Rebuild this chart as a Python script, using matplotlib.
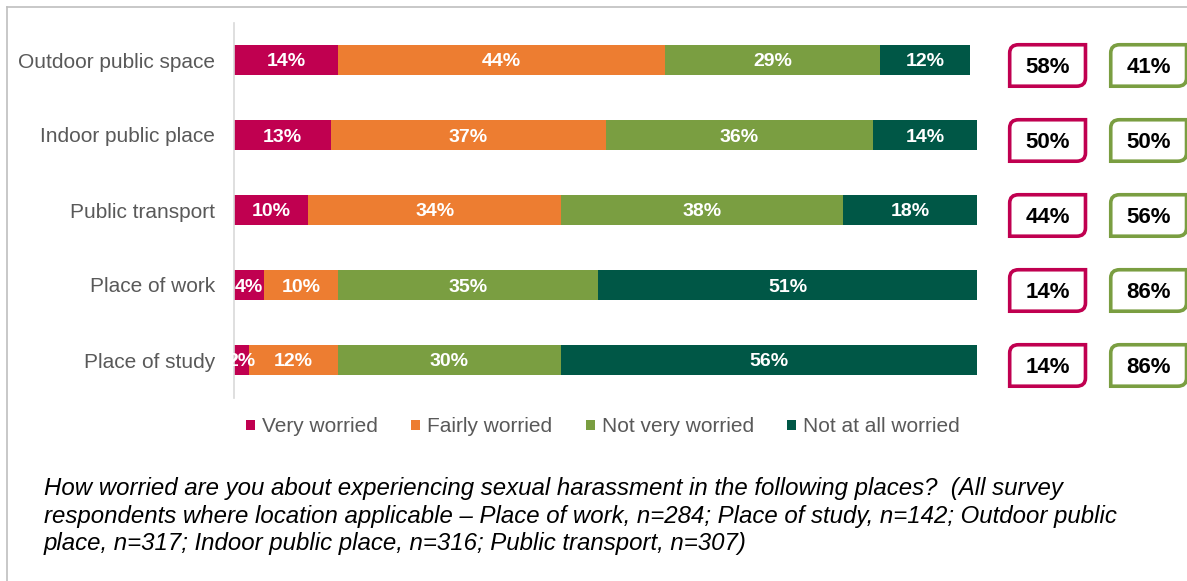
import numpy as np
import matplotlib.pyplot as plt
from matplotlib.patches import Patch, PathPatch
from matplotlib.path import Path
from matplotlib.lines import Line2D

plt.rcParams['font.family'] = ['Liberation Sans', 'DejaVu Sans']

places = ['Outdoor public space', 'Indoor public place', 'Public transport',
          'Place of work', 'Place of study']
series = ['Very worried', 'Fairly worried', 'Not very worried', 'Not at all worried']
very_worried = [14, 13, 10, 4, 2]
fairly_worried = [44, 37, 34, 10, 12]
not_very_worried = [29, 36, 38, 35, 30]
not_at_all_worried = [12, 14, 18, 51, 56]
colours = ['#C00050', '#ED7D31', '#7A9E41', '#005746']

footnote = ('How worried are you about experiencing sexual harassment in the following places?  (All survey\n'
            'respondents where location applicable \u2013 Place of work, n=284; Place of study, n=142; Outdoor public\n'
            'place, n=317; Indoor public place, n=316; Public transport, n=307)')


def diag_box(cx, cy, w, h, rx, ry):
    # rectangle with rounded top-left and bottom-right corners (y axis is inverted)
    x0, x1 = cx - w / 2, cx + w / 2
    y0, y1 = cy - h / 2, cy + h / 2
    verts = [(x0 + rx, y0), (x1, y0), (x1, y1 - ry), (x1, y1), (x1 - rx, y1),
             (x0, y1), (x0, y0 + ry), (x0, y0), (x0 + rx, y0), (x0 + rx, y0)]
    codes = [Path.MOVETO, Path.LINETO, Path.LINETO, Path.CURVE3, Path.CURVE3,
             Path.LINETO, Path.LINETO, Path.CURVE3, Path.CURVE3, Path.CLOSEPOLY]
    return Path(verts, codes)


fig = plt.figure(figsize=(11.87, 5.81), dpi=100)
ax = fig.add_axes([234 / 1187, 1 - 397.5 / 581, 743 / 1187, 375 / 581])

data = np.array([very_worried, fairly_worried, not_very_worried, not_at_all_worried])
y = np.arange(len(places))
left = np.zeros(len(places))
for vals, name, col in zip(data, series, colours):
    ax.barh(y, vals, left=left, height=0.4, color=col, label=name)
    for yi, l, v in zip(y, left, vals):
        ax.text(l + v / 2, yi, f'{v}%', ha='center', va='center_baseline',
                color='white', fontsize=14, fontweight='bold')
    left += vals

# worried / not worried totals
worried = data[0] + data[1]
not_worried = data[2] + data[3]
for yi, a, b in zip(y, worried, not_worried):
    for cx, v, col in [(109.5, a, colours[0]), (123.1, b, colours[2])]:
        p = PathPatch(diag_box(cx, yi + 0.073, 10.2, 0.553, 1.2, 0.11),
                      facecolor='white', edgecolor=col, lw=2.6, clip_on=False)
        ax.add_patch(p)
        ax.text(cx, yi + 0.073, f'{v}%', ha='center', va='center_baseline',
                fontsize=16, fontweight='bold', color='black', clip_on=False)

ax.set_xlim(0, 100)
ax.set_ylim(4.5, -0.5)
ax.set_yticks(y)
ax.set_yticklabels(places, fontsize=15, color='#595959')
ax.tick_params(axis='y', length=0, pad=13.7)
ax.set_xticks([])
for s in ['top', 'right', 'bottom']:
    ax.spines[s].set_visible(False)
ax.spines['left'].set_color('#D9D9D9')
ax.spines['left'].set_linewidth(1.2)

handles = [Patch(facecolor=c) for c in colours]
fig.legend(handles, series, loc='center left', bbox_to_anchor=(246 / 1187, 1 - 427 / 581),
           ncol=4, frameon=False, fontsize=15, labelcolor='#595959',
           handlelength=0.42, handleheight=0.42, handletextpad=0.35,
           columnspacing=1.6, borderpad=0, borderaxespad=0)

fig.text(44 / 1187, 1 - 477 / 581, footnote, ha='left', va='top', fontsize=17.3,
         style='italic', color='black', linespacing=1.25)

# outer frame
fig.add_artist(Line2D([7 / 1187, 1], [1 - 7 / 581, 1 - 7 / 581], color='#BFBFBF', lw=1.2))
fig.add_artist(Line2D([7 / 1187, 7 / 1187], [0, 1 - 7 / 581], color='#BFBFBF', lw=1.2))

fig.savefig('out.png', dpi=100)
